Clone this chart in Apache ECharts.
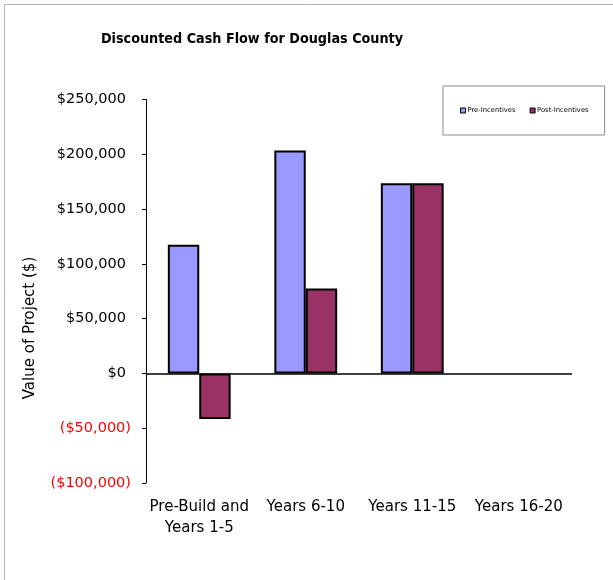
<!DOCTYPE html>
<html>
<head>
<meta charset="utf-8">
<script src="https://cdn.jsdelivr.net/npm/echarts@6/dist/echarts.min.js"></script>
<style>
html,body{margin:0;padding:0;background:#fff;}
#chart{width:613px;height:580px;}
</style>
</head>
<body>
<div id="chart"></div>
<script>
const categories = ['Pre-Build and\nYears 1-5', 'Years 6-10', 'Years 11-15', 'Years 16-20'];
const preIncentives = [117500, 203500, 173500, null];
const postIncentives = [-41500, 77500, 173500, null];
const seriesNames = ['Pre-Incentives', 'Post-Incentives'];
const titleText = 'Discounted Cash Flow for Douglas County';
const yAxisTitle = 'Value of Project ($)';

const FONT = 'DejaVu Sans';
function fmtMoney(v) {
  const s = '$' + Math.abs(v).toLocaleString('en-US');
  return v < 0 ? '{neg|(' + s + ')}' : '{pos|' + s + '}';
}

const chart = echarts.init(document.getElementById('chart'), null, {renderer: 'canvas'});
chart.setOption({
  animation: false,
  backgroundColor: '#ffffff',
  grid: {left: 146, right: 41, top: 99.5, bottom: 97, containLabel: false},
  graphic: [
    {type: 'rect', shape: {x: 4.5, y: 4.5, width: 700, height: 700},
     style: {fill: 'none', stroke: '#b4b4b4', lineWidth: 1}, silent: true},
    {type: 'text', x: 252, y: 39, scaleX: 0.915,
     style: {text: titleText, font: 'bold 14px "' + FONT + '"', fill: '#000',
             textAlign: 'center', textVerticalAlign: 'middle'}},
    {type: 'text', x: 30, y: 328, rotation: Math.PI / 2,
     style: {text: yAxisTitle, font: '15px "' + FONT + '"', fill: '#000',
             textAlign: 'center', textVerticalAlign: 'middle'}}
  ],
  legend: {
    data: seriesNames,
    left: 443, top: 86,
    orient: 'horizontal',
    padding: [21, 16, 21, 17],
    itemGap: 14,
    itemWidth: 5, itemHeight: 5,
    icon: 'rect',
    borderColor: '#8c8c8c', borderWidth: 1,
    textStyle: {fontFamily: FONT, fontSize: 6.8, color: '#000', padding: [0, 0, 0, -3]},
    itemStyle: {borderColor: '#000', borderWidth: 1}
  },
  xAxis: {
    type: 'category',
    data: categories,
    position: 'bottom',
    axisLine: {show: false},
    axisTick: {show: false},
    axisLabel: {fontFamily: FONT, fontSize: 15, color: '#000', margin: 14, lineHeight: 21, interval: 0}
  },
  yAxis: {
    type: 'value',
    min: -100000, max: 250000, interval: 50000,
    splitLine: {show: false},
    axisLine: {show: true, lineStyle: {color: '#000', width: 1}},
    axisTick: {show: true, length: 4, lineStyle: {color: '#000'}},
    axisLabel: {
      margin: 15,
      formatter: fmtMoney,
      rich: {
        pos: {fontFamily: FONT, fontSize: 14.5, color: '#000', padding: [0, 5, 0, 0]},
        neg: {fontFamily: FONT, fontSize: 14.5, color: '#ff0000'}
      }
    }
  },
  series: [
    {
      name: seriesNames[0], type: 'bar', data: preIncentives,
      barGap: '0%', barCategoryGap: '41%',
      itemStyle: {color: '#9999ff', borderColor: '#000', borderWidth: 2},
      markLine: {
        silent: true, symbol: 'none', label: {show: false},
        lineStyle: {color: '#000', type: 'solid', width: 1.5},
        data: [{yAxis: 0}]
      }
    },
    {
      name: seriesNames[1], type: 'bar', data: postIncentives,
      itemStyle: {color: '#993366', borderColor: '#000', borderWidth: 2}
    }
  ]
});
</script>
</body>
</html>
